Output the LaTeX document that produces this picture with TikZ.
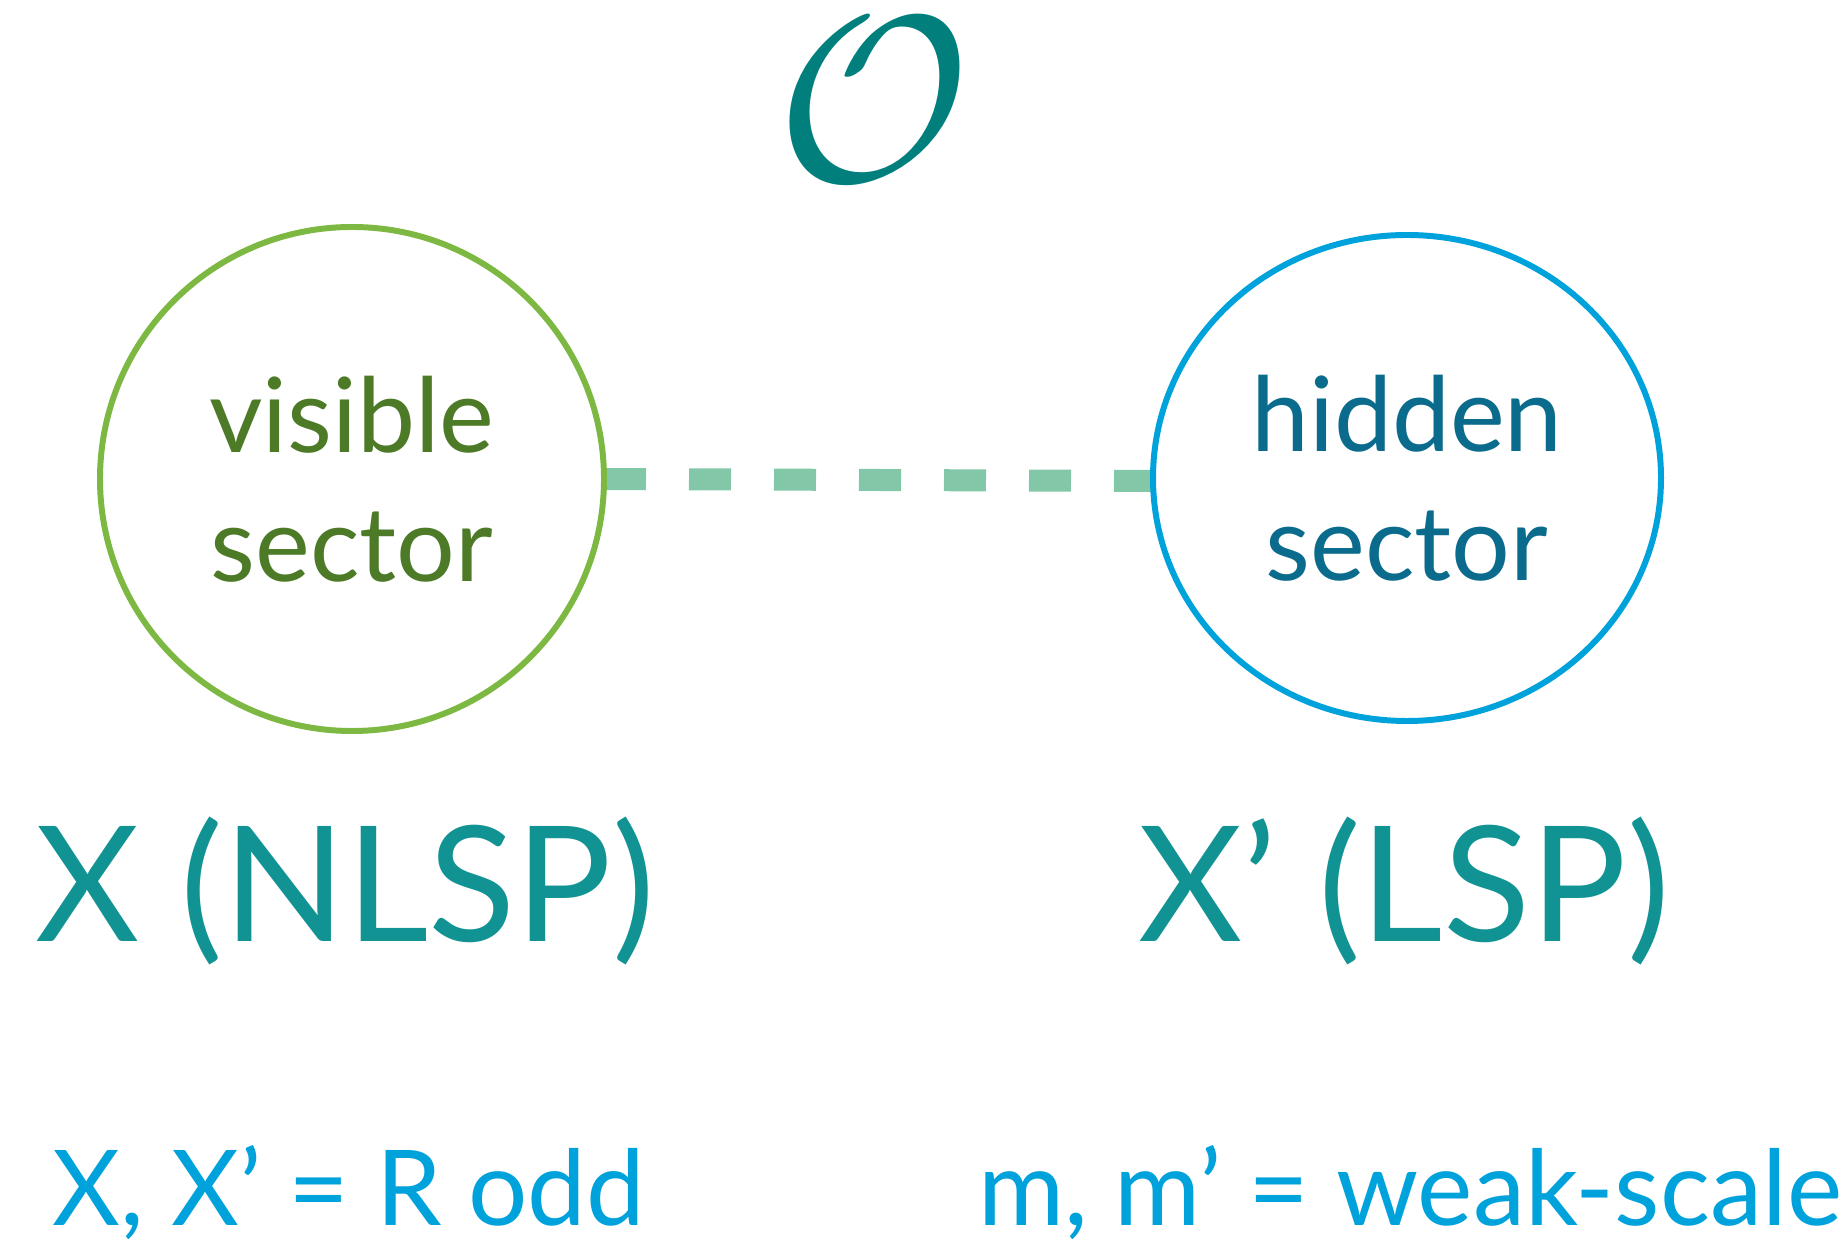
\documentclass[tikz,border=0pt]{standalone}
\usepackage{amsmath}
\usepackage{fontspec}
\setmainfont{Lato}
\usetikzlibrary{backgrounds}

\definecolor{visgreen}{HTML}{7DB843}
\definecolor{vistext}{HTML}{4C7A27}
\definecolor{hidblue}{HTML}{00A2DB}
\definecolor{hidtext}{HTML}{0B6B8C}
\definecolor{linkgreen}{HTML}{82C8A8}
\definecolor{labteal}{HTML}{119393}
\definecolor{opteal}{HTML}{007F7D}

\tikzset{
	sector/.style = {align = center, font = \fontsize{29.5}{36.7}\selectfont, inner sep = 0},
	partlabel/.style = {anchor = base, text = labteal, font = \fontsize{45.7}{50}\selectfont, inner sep = 0},
	notelabel/.style = {anchor = base, text = hidblue, font = \fontsize{29.8}{34}\selectfont, inner sep = 0}
}

\begin{document}
\begin{tikzpicture}
	\useasboundingbox (0,0) rectangle (18.47,12.38);
	\node [text = opteal, font = \Huge, scale = 2.7, inner sep = 0] (op) at (8.74,11.38) {$\mathcal{O}$};
	\draw [visgreen, line width = 1.7pt] (3.52,7.59) circle [radius = 2.52];
	\draw [hidblue, line width = 1.7pt] (14.07,7.60) ellipse [x radius = 2.54, y radius = 2.43];
	\node [sector, text = vistext] (vis) at (3.52,7.59) {visible\\sector};
	\node [sector, text = hidtext] (hid) at (14.07,7.60) {hidden\\sector};
	\coordinate (visedge) at (6.04,7.59);
	\coordinate (hidedge) at (11.53,7.57);
	\begin{pgfonlayer}{background}
		\draw [linkgreen, line width = 0.22cm, dash pattern = on 0.42cm off 0.43cm] (visedge) -- (hidedge);
	\end{pgfonlayer}
	\node [partlabel] (nlsp) at (3.45,2.96) {X (NLSP)};
	\node [partlabel] (lsp) at (14.04,2.96) {X’ (LSP)};
	\node [notelabel] (rodd) at (3.49,0.13) {X, X’ = R odd};
	\node [notelabel] (weak) at (14.10,0.13) {m, m’ = weak-scale};
\end{tikzpicture}
\end{document}
